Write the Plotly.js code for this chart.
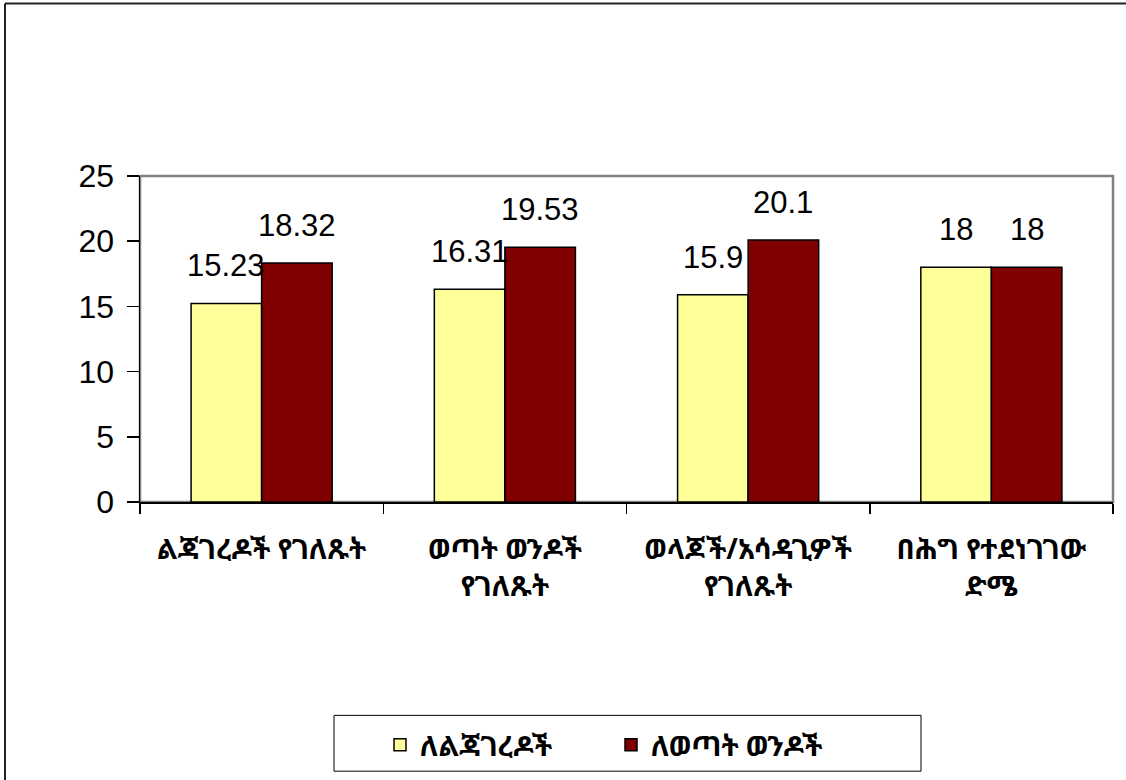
<!DOCTYPE html>
<html>
<head>
<meta charset="utf-8">
<script src="https://cdn.plot.ly/plotly-3.0.1.min.js"></script>
<style>
html,body{margin:0;padding:0;background:#fff;}
#chart{width:1126px;height:780px;}
</style>
</head>
<body>
<div id="chart"></div>
<script>
const categories = ['ልጃገረዶች የገለጹት', 'ወጣት ወንዶች<br>የገለጹት', 'ወላጆች/አሳዳጊዎች<br>የገለጹት', 'በሕግ የተደነገገው<br>ድሜ'];
const girls = [15.23, 16.31, 15.9, 18];
const boys = [18.32, 19.53, 20.1, 18];
const seriesNames = ['ለልጃገረዶች', 'ለወጣት ወንዶች'];
const yTicks = [0, 5, 10, 15, 20, 25];

const W = 1126, H = 780;
const M = {l: 140, r: 13, t: 176, b: 277};
const plotW = W - M.l - M.r, plotH = H - M.t - M.b;
const bargap = 0.42;
const numFont = 'Liberation Sans, Arial, sans-serif';
const ethFont = 'Noto Sans Ethiopic, Abyssinica SIL, Noto Serif Ethiopic, serif';

const px2x = p => (p - M.l) / plotW;
const px2y = p => (H - M.b - p) / plotH;

const series = [girls, boys];
const colors = ['#FFFF99', '#800000'];
const traces = series.map((vals, i) => ({
  type: 'bar',
  name: seriesNames[i],
  x: categories,
  y: vals,
  marker: {color: colors[i], line: {color: '#000', width: 1.5}},
  hoverinfo: 'none'
}));

const catW = plotW / categories.length;
const half = catW * (1 - bargap) / 4;
const annotations = [];
series.forEach((vals, i) => {
  vals.forEach((v, j) => {
    annotations.push({
      x: categories[j], y: v, xref: 'x', yref: 'y',
      text: String(v), showarrow: false,
      xshift: (i === 0 ? -half : half), yshift: 18,
      yanchor: 'bottom',
      font: {family: numFont, size: 31, color: '#000'}
    });
  });
});

const shapes = [
  {type: 'rect', xref: 'paper', yref: 'paper', x0: 0, x1: 1, y0: 0, y1: 1,
   line: {color: '#808080', width: 2.5}, layer: 'below'},
  {type: 'line', xref: 'paper', yref: 'paper', x0: px2x(5), x1: px2x(1130), y0: px2y(3), y1: px2y(3),
   line: {color: '#222', width: 2}},
  {type: 'line', xref: 'paper', yref: 'paper', x0: px2x(5), x1: px2x(5), y0: px2y(3), y1: px2y(790),
   line: {color: '#222', width: 2}},
  {type: 'rect', xref: 'paper', yref: 'paper', x0: px2x(334), x1: px2x(921), y0: px2y(717), y1: px2y(773),
   line: {color: '#000', width: 1}}
];

const layout = {
  width: W, height: H,
  margin: M,
  paper_bgcolor: '#fff', plot_bgcolor: '#fff',
  barmode: 'group', bargap: bargap, bargroupgap: 0,
  showlegend: true,
  legend: {
    orientation: 'h', x: px2x(380), xanchor: 'left', y: px2y(745), yanchor: 'middle',
    font: {family: ethFont, size: 28, color: '#000', weight: 'bold'},
    entrywidth: 186, entrywidthmode: 'pixels',
    bgcolor: 'rgba(0,0,0,0)', borderwidth: 0
  },
  xaxis: {
    type: 'category',
    showline: true, linecolor: '#000', linewidth: 1.5,
    ticks: 'outside', tickson: 'boundaries', ticklen: 10, tickcolor: '#000', tickwidth: 1.5,
    showgrid: false, zeroline: false,
    tickfont: {family: ethFont, size: 28, color: '#000', weight: 'bold'},
    ticklabelstandoff: 22,
    fixedrange: true
  },
  yaxis: {
    range: [0, 25], tickvals: yTicks, ticktext: yTicks.map(String),
    showline: true, linecolor: '#000', linewidth: 1.5,
    ticks: 'outside', ticklen: 12, tickcolor: '#000', tickwidth: 1.5,
    showgrid: false, zeroline: false,
    tickfont: {family: numFont, size: 32, color: '#000'},
    ticklabelstandoff: 6,
    fixedrange: true
  },
  annotations: annotations,
  shapes: shapes
};

Plotly.newPlot('chart', traces, layout, {displayModeBar: false, staticPlot: true});
</script>
</body>
</html>
